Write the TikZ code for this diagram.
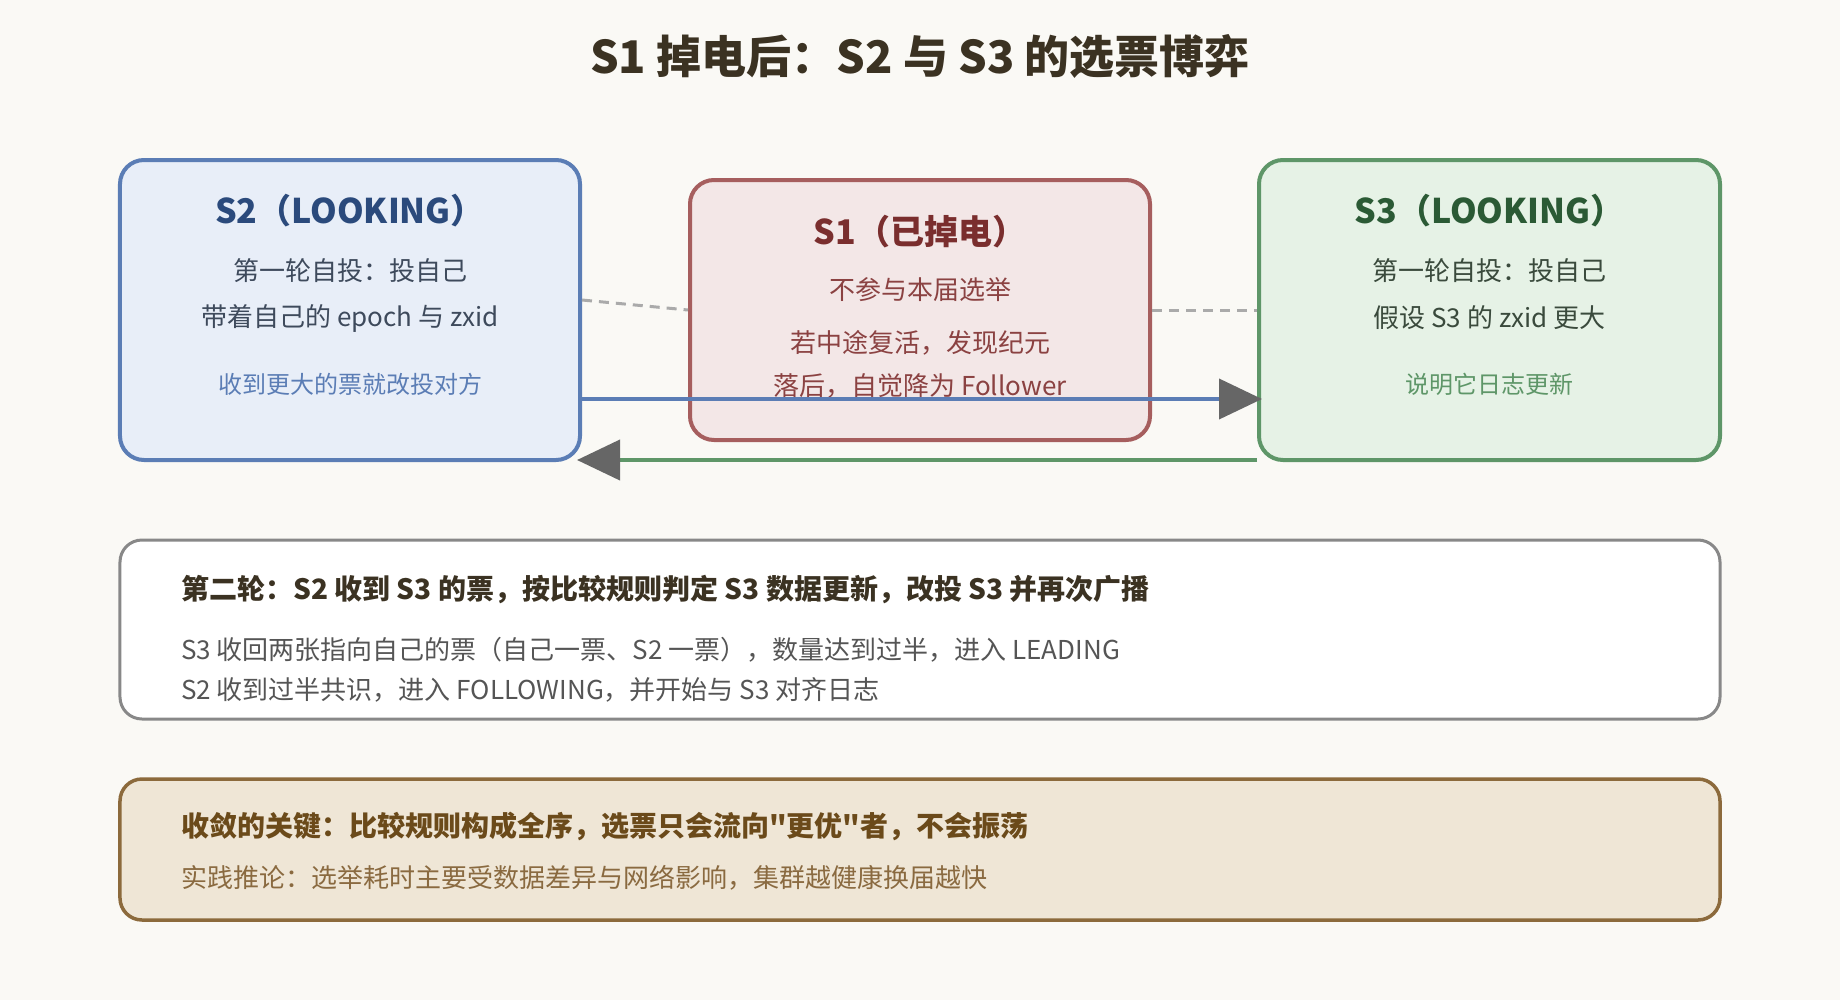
\documentclass[tikz,border=0pt]{standalone}
\usepackage{fontspec}
\setmainfont{Noto Sans CJK SC}
\newfontfamily\cjkplain{Noto Sans CJK SC}
\usetikzlibrary{arrows.meta,calc}
\definecolor{bg}{HTML}{FAF9F5}
\definecolor{titlec}{HTML}{3B3222}
\definecolor{bluebd}{HTML}{5B7DB5}
\definecolor{bluefill}{HTML}{E8EEF8}
\definecolor{bluetitle}{HTML}{2B4A7C}
\definecolor{bluebody}{HTML}{3E4A5C}
\definecolor{redbd}{HTML}{A65E5E}
\definecolor{redfill}{HTML}{F3E7E7}
\definecolor{redtitle}{HTML}{7A2E2E}
\definecolor{redbody}{HTML}{8B4242}
\definecolor{greenbd}{HTML}{5E9668}
\definecolor{greenfill}{HTML}{E6F2E6}
\definecolor{greentitle}{HTML}{2B5A35}
\definecolor{greenbody}{HTML}{3A4A3C}
\definecolor{dashc}{HTML}{AAAAAA}
\definecolor{tipc}{HTML}{666666}
\definecolor{graybd}{HTML}{888888}
\definecolor{graybody}{HTML}{555555}
\definecolor{brownfill}{HTML}{EFE6D6}
\definecolor{brownbd}{HTML}{8C6A3C}
\definecolor{browntitle}{HTML}{6B4A1A}
\definecolor{brownbody}{HTML}{8A6A40}
\tikzset{
  panel/.style={draw, rounded corners=24bp, line width=4bp, inner sep=0pt},
  txt/.style={inner sep=0pt, anchor=center},
  ltxt/.style={inner sep=0pt, anchor=west},
  fT/.style={font=\cjkplain\fontsize{45bp}{54bp}\selectfont\bfseries},
  fH/.style={font=\cjkplain\fontsize{34bp}{40bp}\selectfont\bfseries},
  fB/.style={font=\cjkplain\fontsize{26bp}{31bp}\selectfont},
  fS/.style={font=\cjkplain\fontsize{24bp}{29bp}\selectfont},
  fL/.style={font=\cjkplain\fontsize{26bp}{31bp}\selectfont},
  fBB/.style={font=\cjkplain\fontsize{28bp}{34bp}\selectfont\bfseries},
  dashlink/.style={draw=dashc, line width=3bp, dash pattern=on 10bp off 7bp},
  vote/.style={line width=4bp, shorten >=-5bp, -{Triangle[length=43bp,width=40bp,color=tipc,fill=tipc]}},
}
\begin{document}
\begin{tikzpicture}[x=1bp,y=-1bp]
\fill[bg] (0,0) rectangle (1840,1000);
\useasboundingbox (0,0) rectangle (1840,1000);

\node[txt, fT, text=titlec] (title) at (920,56) {S1 掉电后：S2 与 S3 的选票博弈};

% boxes
\node[panel, draw=bluebd, fill=bluefill, minimum width=460bp, minimum height=300bp] (s2) at (350,310) {};
\node[panel, draw=redbd, fill=redfill, minimum width=460bp, minimum height=260bp] (s1) at (920,310) {};
\node[panel, draw=greenbd, fill=greenfill, minimum width=461bp, minimum height=300bp] (s3) at (1489.5,310) {};

% S2 texts
\node[txt, fH, text=bluetitle] (s2t) at (350,211) {S2（LOOKING）};
\node[txt, fB, text=bluebody] (s2a) at (350,271) {第一轮自投：投自己};
\node[txt, fB, text=bluebody] (s2b) at (350,318) {带着自己的 epoch 与 zxid};
\node[txt, fS, text=bluebd] (s2c) at (350,384) {收到更大的票就改投对方};

% S1 texts
\node[txt, fH, text=redtitle] (s1t) at (920,232) {S1（已掉电）};
\node[txt, fL, text=redbody] (s1a) at (920,290) {不参与本届选举};
\node[txt, fL, text=redbody] (s1b) at (920,343) {若中途复活，发现纪元};
\node[txt, fL, text=redbody] (s1c) at (920,386) {落后，自觉降为 Follower};

% S3 texts
\node[txt, fH, text=greentitle] (s3t) at (1489.5,211) {S3（LOOKING）};
\node[txt, fB, text=greenbody] (s3a) at (1489.5,271) {第一轮自投：投自己};
\node[txt, fB, text=greenbody] (s3b) at (1489.5,318) {假设 S3 的 zxid 更大};
\node[txt, fS, text=greenbd] (s3c) at (1489.5,384) {说明它日志更新};

% connectors
\draw[dashlink] ([yshift=10bp]s2.east) -- (s1.west);
\draw[dashlink] (s1.east) -- (s3.west);
\draw[vote, draw=bluebd] ([yshift=-89bp]s2.east) -- ([yshift=-89bp]s3.west);
\draw[vote, draw=greenbd] ([yshift=-150bp]s3.west) -- ([yshift=-150bp]s2.east);

% second round box
\node[panel, line width=3bp, rounded corners=22bp, draw=graybd, fill=white, minimum width=1600bp, minimum height=179bp] (round2) at (920,629.5) {};
\node[ltxt, fBB, text=titlec] (r2t) at (181,590) {第二轮：S2 收到 S3 的票，按比较规则判定 S3 数据更新，改投 S3 并再次广播};
\node[ltxt, fL, text=graybody] (r2a) at (181,650) {S3 收回两张指向自己的票（自己一票、S2 一票），数量达到过半，进入 LEADING};
\node[ltxt, fL, text=graybody] (r2b) at (181,690) {S2 收到过半共识，进入 FOLLOWING，并开始与 S3 对齐日志};

% key box
\node[panel, line width=3.5bp, rounded corners=22bp, draw=brownbd, fill=brownfill, minimum width=1600bp, minimum height=141bp] (key) at (920,849.5) {};
\node[ltxt, fBB, text=browntitle] (kt) at (181,826) {收敛的关键：比较规则构成全序，选票只会流向"更优"者，不会振荡};
\node[ltxt, fL, text=brownbody] (ka) at (181,878) {实践推论：选举耗时主要受数据差异与网络影响，集群越健康换届越快};
\end{tikzpicture}
\end{document}
